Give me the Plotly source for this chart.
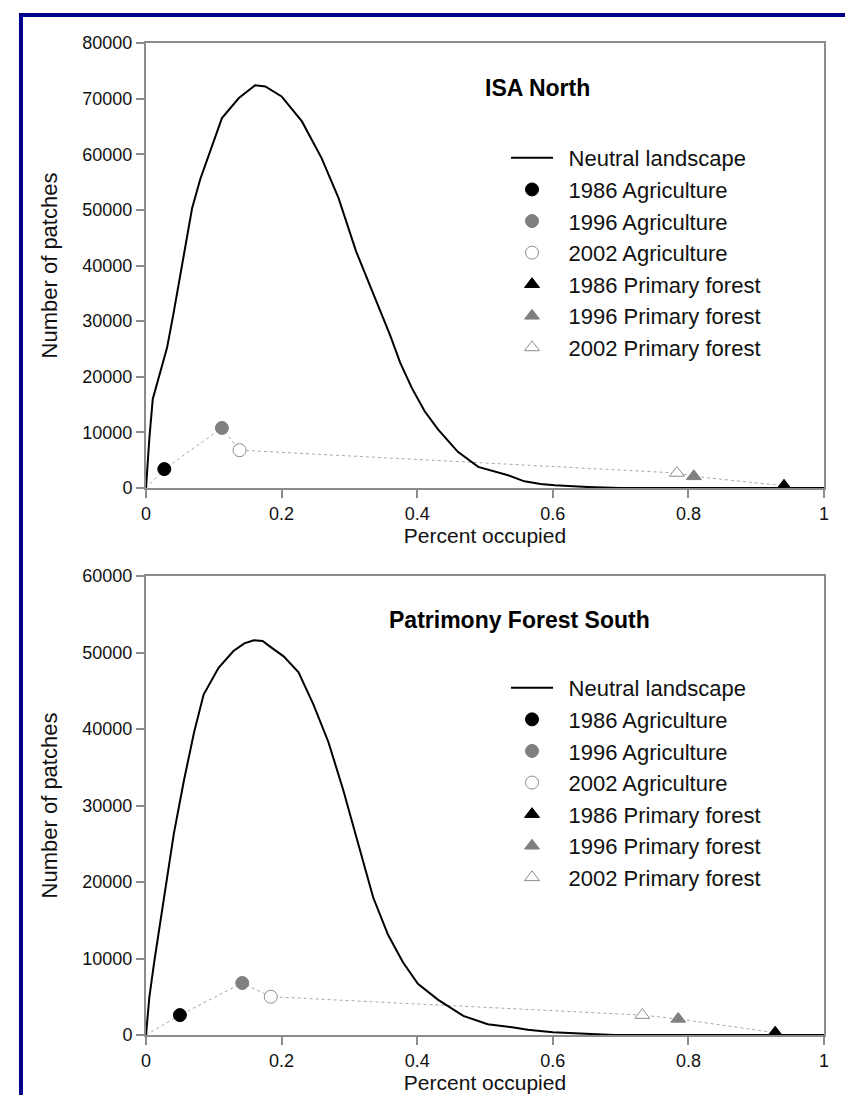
import plotly.graph_objects as go

# ---------------- data ----------------
# ISA North neutral landscape curve
north_x = [0, 0.005, 0.01, 0.02, 0.031, 0.04, 0.053, 0.068, 0.08, 0.093, 0.112, 0.137,
           0.161, 0.176, 0.2, 0.23, 0.259, 0.284, 0.31, 0.335, 0.36, 0.375, 0.392, 0.411,
           0.431, 0.46, 0.49, 0.534, 0.558, 0.582, 0.603, 0.651, 0.7, 0.8, 0.9, 1.0]
north_y = [0, 9000, 16000, 20500, 25200, 31000, 40100, 50300, 55500, 59900, 66500, 70100,
           72400, 72200, 70400, 65900, 59300, 52100, 42500, 35000, 27500, 22500, 18000, 13800,
           10500, 6500, 3800, 2300, 1200, 720, 480, 180, 0, 0, 0, 0]

# Patrimony Forest South neutral landscape curve
south_x = [0, 0.005, 0.012, 0.026, 0.041, 0.056, 0.071, 0.085, 0.107, 0.129, 0.145, 0.159,
           0.172, 0.181, 0.203, 0.225, 0.247, 0.269, 0.291, 0.313, 0.335, 0.357, 0.379, 0.401,
           0.431, 0.468, 0.504, 0.54, 0.563, 0.6, 0.622, 0.66, 0.69, 0.75, 0.85, 1.0]
south_y = [0, 5000, 9500, 17900, 26300, 33300, 39600, 44500, 48000, 50200, 51200, 51600,
           51500, 50900, 49500, 47400, 43200, 38300, 32000, 25000, 18000, 13100, 9500, 6700,
           4600, 2500, 1400, 1000, 700, 350, 280, 150, 0, 0, 0, 0]

series_names = ["1986 Agriculture", "1996 Agriculture", "2002 Agriculture",
                "1986 Primary forest", "1996 Primary forest", "2002 Primary forest"]

north_pt_x = [0.027, 0.112, 0.138, 0.941, 0.808, 0.783]
north_pt_y = [3400, 10800, 6800, 400, 2100, 2700]

south_pt_x = [0.05, 0.142, 0.184, 0.928, 0.785, 0.732]
south_pt_y = [2600, 6800, 5000, 300, 2100, 2600]

panel_titles = ["ISA North", "Patrimony Forest South"]
x_ticks = [0, 0.2, 0.4, 0.6, 0.8, 1]
x_ticklabels = ["0", "0.2", "0.4", "0.6", "0.8", "1"]

# ---------------- styling ----------------
FONT = "Liberation Sans, Arial, sans-serif"
AX_COLOR = "#8c8c8c"
PAD = "\u00a0\u2009"  # small gap between legend symbol and label
marker_styles = [
    dict(symbol="circle", color="black", line=dict(color="black", width=1)),
    dict(symbol="circle", color="#808080", line=dict(color="#808080", width=1)),
    dict(symbol="circle", color="white", line=dict(color="#8c8c8c", width=1)),
    dict(symbol="triangle-up", color="black", line=dict(color="black", width=1)),
    dict(symbol="triangle-up", color="#808080", line=dict(color="#808080", width=1)),
    dict(symbol="triangle-up", color="white", line=dict(color="#8c8c8c", width=1)),
]

fig = go.Figure()

panels = [
    (north_x, north_y, north_pt_x, north_pt_y, "x", "y", "legend"),
    (south_x, south_y, south_pt_x, south_pt_y, "x2", "y2", "legend2"),
]

for cx, cy, px, py, xa, ya, lg in panels:
    # dotted connector through origin and all points ordered by x
    pts = sorted(zip([0] + px, [0] + py))
    fig.add_trace(go.Scatter(x=[p[0] for p in pts], y=[p[1] for p in pts], mode="lines",
                             line=dict(color="#a8a8a8", width=1, dash="dot"),
                             showlegend=False, hoverinfo="skip", xaxis=xa, yaxis=ya))
    fig.add_trace(go.Scatter(x=cx, y=cy, mode="lines", name=PAD + "Neutral landscape",
                             line=dict(color="black", width=2), xaxis=xa, yaxis=ya,
                             legend=lg))
    for i, name in enumerate(series_names):
        fig.add_trace(go.Scatter(x=[px[i]], y=[py[i]], mode="markers", name=PAD + name,
                                 marker=dict(size=13, **marker_styles[i]),
                                 xaxis=xa, yaxis=ya, legend=lg))

axis_common = dict(showline=True, linecolor=AX_COLOR, linewidth=2, mirror=True,
                   ticks="outside", ticklen=8, tickwidth=2, tickcolor=AX_COLOR,
                   showgrid=False, zeroline=False,
                   tickfont=dict(family=FONT, size=18, color="#111"))

xtitle = dict(text="Percent occupied", font=dict(family=FONT, size=21), standoff=2)
ytitle = dict(text="Number of patches", font=dict(family=FONT, size=22), standoff=19)
legend_common = dict(x=0.531, xanchor="left", yanchor="top", bgcolor="rgba(0,0,0,0)",
                     font=dict(family=FONT, size=22, color="#111"),
                     itemwidth=42, traceorder="normal")

fig.update_layout(
    width=853, height=1095,
    margin=dict(l=138, r=37, t=35, b=68),
    paper_bgcolor="white", plot_bgcolor="white",
    font=dict(family=FONT, color="#111"),
    showlegend=True,
    xaxis=dict(domain=[0, 1], range=[0, 1], anchor="y", tickvals=x_ticks,
               ticktext=x_ticklabels, title=xtitle, **axis_common),
    yaxis=dict(domain=[0.5514, 1], range=[0, 80000], anchor="x", dtick=10000,
               tickformat="d", title=ytitle, **axis_common),
    xaxis2=dict(domain=[0, 1], range=[0, 1], anchor="y2", tickvals=x_ticks,
                ticktext=x_ticklabels, title=xtitle, **axis_common),
    yaxis2=dict(domain=[0, 0.4627], range=[0, 60000], anchor="x2", dtick=10000,
                tickformat="d", title=ytitle, **axis_common),
    legend=dict(y=0.9052, **legend_common),
    legend2=dict(y=0.371, **legend_common),
    annotations=[
        dict(text="<b>%s</b>" % panel_titles[0], x=0.578, y=0.9546, xref="paper", yref="paper",
             xanchor="center", yanchor="middle", showarrow=False,
             font=dict(family=FONT, size=23, color="black")),
        dict(text="<b>%s</b>" % panel_titles[1], x=0.5516, y=0.4183, xref="paper", yref="paper",
             xanchor="center", yanchor="middle", showarrow=False,
             font=dict(family=FONT, size=23, color="black")),
    ],
    shapes=[
        dict(type="rect", xref="paper", yref="paper",
             x0=-0.1844, x1=1.08, y0=-0.09, y1=1.0282,
             line=dict(color="#00008b", width=4), fillcolor="rgba(0,0,0,0)", layer="above"),
    ],
)

fig.write_html("out.html")
